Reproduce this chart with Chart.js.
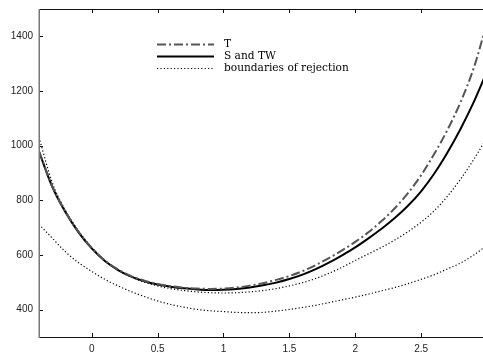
<!DOCTYPE html>
<html lang="en">
<head>
  <meta charset="UTF-8">
  <title>T vs S and TW</title>
  <style>
    html, body {
      margin: 0;
      padding: 0;
      background: #fff;
      overflow: hidden;
    }
    /* chart is a bit wider than the window: the right border falls just off-picture */
    .chart-container {
      position: relative;
      width: 487px;
      height: 354px;
    }
  </style>
  <script src="https://cdn.jsdelivr.net/npm/chart.js"></script>
</head>
<body>
  <div class="chart-container">
    <canvas id="chart"></canvas>
  </div>

  <script>
    // x positions of the sampled curves
    const xValues = [-0.4, -0.3, -0.2, -0.1, 0, 0.1, 0.2, 0.3, 0.4, 0.5, 0.6, 0.7, 0.8, 0.9, 1.0,
      1.1, 1.2, 1.3, 1.4, 1.5, 1.6, 1.7, 1.8, 1.9, 2.0, 2.1, 2.2, 2.3, 2.4, 2.5, 2.6, 2.7, 2.8, 2.9, 3.0];

    const tValues = [980, 852, 759, 685, 626, 580, 547, 523, 506, 494, 486, 480, 477, 476, 477,
      481, 488, 497, 509, 523, 541, 563, 589, 617, 648, 683, 724, 771, 826, 892, 970, 1058, 1160, 1285, 1450];

    const sValues = [978, 850, 757, 683, 624, 578, 545, 521, 504, 492, 484, 478, 474, 472, 473,
      476, 481, 489, 499, 512, 528, 548, 572, 599, 628, 661, 696, 735, 780, 833, 898, 975, 1062, 1160, 1272];

    const upperBound = [1030, 866, 764, 688, 628, 580, 545, 519, 501, 487, 477, 470, 465, 462, 461,
      462, 465, 470, 477, 487, 499, 514, 533, 555, 580, 604, 628, 655, 685, 720, 762, 815, 878, 950, 1030];

    const lowerBound = [712, 662, 612, 572, 540, 511, 487, 466, 448, 432, 419, 409, 401, 396, 393,
      390, 389, 390, 395, 401, 408, 416, 426, 436, 446, 457, 469, 481, 495, 511, 528, 549, 571, 600, 636];

    const xTicks = [0, 0.5, 1, 1.5, 2, 2.5];
    const yTicks = [400, 600, 800, 1000, 1200, 1400];

    const legendLabels = ['T', 'S and TW', 'boundaries of rejection'];

    function toPoints(ys) {
      return xValues.map((x, i) => ({ x: x, y: ys[i] }));
    }

    // Frame with inward tick marks on all four sides, plus the legend box inside the plot
    const frameAndLegend = {
      id: 'frameAndLegend',
      afterDraw(chart) {
        const ctx = chart.ctx;
        const a = chart.chartArea;
        const xs = chart.scales.x;
        const ys = chart.scales.y;
        const tl = 4;
        ctx.save();

        ctx.strokeStyle = '#111';
        ctx.lineWidth = 1;
        ctx.beginPath();
        ctx.moveTo(a.left, a.top + 0.5); ctx.lineTo(a.right, a.top + 0.5);
        ctx.moveTo(a.left, a.bottom + 0.5); ctx.lineTo(a.right, a.bottom + 0.5);
        ctx.moveTo(a.right - 0.5, a.top); ctx.lineTo(a.right - 0.5, a.bottom);
        xTicks.forEach(v => {
          const px = Math.round(xs.getPixelForValue(v)) + 0.5;
          ctx.moveTo(px, a.bottom); ctx.lineTo(px, a.bottom - tl);
          ctx.moveTo(px, a.top); ctx.lineTo(px, a.top + tl);
        });
        yTicks.forEach(v => {
          const py = Math.round(ys.getPixelForValue(v)) + 0.5;
          ctx.moveTo(a.left, py); ctx.lineTo(a.left + tl, py);
          ctx.moveTo(a.right, py); ctx.lineTo(a.right - tl, py);
        });
        ctx.stroke();

        // left border is drawn grey in the original
        ctx.strokeStyle = '#777';
        ctx.lineWidth = 1.5;
        ctx.beginPath();
        ctx.moveTo(a.left + 0.25, a.top); ctx.lineTo(a.left + 0.25, a.bottom + 1);
        ctx.stroke();

        // legend
        const lx0 = 157, lx1 = 214, tx = 224;
        const rowY = [44, 56, 68];
        ctx.font = '10.6px "DejaVu Serif"';
        ctx.textBaseline = 'middle';
        ctx.fillStyle = '#000';
        legendLabels.forEach((label, i) => {
          const ds = chart.data.datasets[i];
          ctx.strokeStyle = ds.borderColor;
          ctx.lineWidth = ds.borderWidth;
          ctx.setLineDash(ds.borderDash || []);
          ctx.beginPath();
          ctx.moveTo(lx0, rowY[i] + 0.5);
          ctx.lineTo(lx1, rowY[i] + 0.5);
          ctx.stroke();
          ctx.fillText(label, tx, rowY[i]);
        });
        ctx.restore();
      }
    };

    new Chart(document.getElementById('chart').getContext('2d'), {
      type: 'line',
      data: {
        datasets: [
          {
            label: legendLabels[0],
            data: toPoints(tValues),
            borderColor: '#555',
            borderWidth: 2,
            borderDash: [9, 3, 2, 3],
          },
          {
            label: legendLabels[1],
            data: toPoints(sValues),
            borderColor: '#000',
            borderWidth: 2,
          },
          {
            label: legendLabels[2],
            data: toPoints(upperBound),
            borderColor: '#000',
            borderWidth: 1.2,
            borderDash: [1.2, 2.2],
          },
          {
            label: legendLabels[2],
            data: toPoints(lowerBound),
            borderColor: '#000',
            borderWidth: 1.2,
            borderDash: [1.2, 2.2],
          }
        ]
      },
      options: {
        responsive: true,
        maintainAspectRatio: false,
        animation: false,
        devicePixelRatio: 1,
        layout: { padding: { top: 9, right: 0, left: 0, bottom: 0 } },
        elements: {
          point: { radius: 0 },
          line: { tension: 0.4, cubicInterpolationMode: 'monotone', fill: false }
        },
        scales: {
          x: {
            type: 'linear',
            min: -0.4,
            max: 3,
            grid: { display: false, drawTicks: false },
            border: { display: false },
            afterBuildTicks: scale => { scale.ticks = xTicks.map(v => ({ value: v })); },
            afterFit: scale => { scale.height = 17; scale.paddingLeft = 0; scale.paddingRight = 0; },
            ticks: {
              padding: 6,
              color: '#222',
              font: { family: '"Liberation Sans"', size: 10 },
              callback: v => String(v)
            }
          },
          y: {
            type: 'linear',
            min: 300,
            max: 1500,
            grid: { display: false, drawTicks: false },
            border: { display: false },
            afterBuildTicks: scale => { scale.ticks = yTicks.map(v => ({ value: v })); },
            afterFit: scale => { scale.width = 39; scale.paddingTop = 0; scale.paddingBottom = 0; },
            ticks: {
              padding: 6,
              color: '#222',
              font: { family: '"Liberation Sans"', size: 10 },
              callback: v => String(v)
            }
          }
        },
        plugins: {
          legend: { display: false },
          tooltip: { enabled: false }
        }
      },
      plugins: [frameAndLegend]
    });
  </script>
</body>
</html>
